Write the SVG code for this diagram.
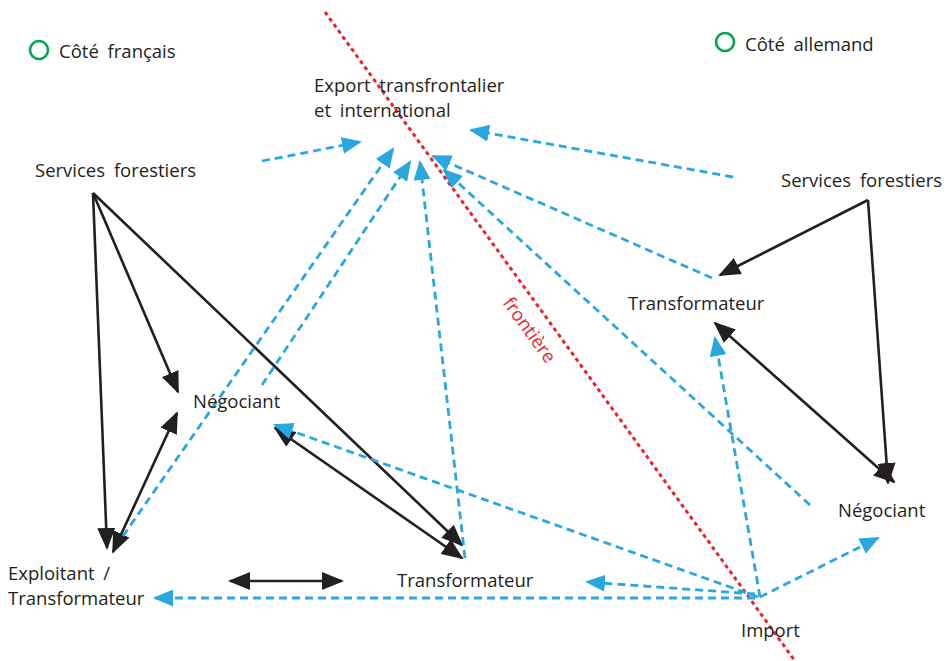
<svg xmlns="http://www.w3.org/2000/svg" width="952" height="661" viewBox="0 0 952 661">
<style>
text{font-family:"Open Sans","Liberation Sans",sans-serif;font-size:18.5px;fill:#231f20;word-spacing:4px}
.k{stroke:#231f20;stroke-width:2.6;fill:none}
.b{stroke:#29a8e0;stroke-width:2.8;fill:none;stroke-dasharray:8 5}
.kb{marker-end:url(#ak)}
.kk{marker-start:url(#ak);marker-end:url(#ak)}
.bb{marker-end:url(#ab)}
</style>
<defs>
<marker id="ak" viewBox="0 0 22 18" refX="20" refY="9" markerWidth="22" markerHeight="18" markerUnits="userSpaceOnUse" orient="auto-start-reverse"><path d="M0,0 L22,9 L0,18 z" fill="#231f20"/></marker>
<marker id="ab" viewBox="0 0 20 17" refX="18" refY="8.5" markerWidth="20" markerHeight="17" markerUnits="userSpaceOnUse" orient="auto-start-reverse"><path d="M0,0 L20,8.5 L0,17 z" fill="#29a8e0"/></marker>
</defs>
<rect width="952" height="661" fill="#fff"/>
<g id="border">
<line x1="325" y1="12" x2="795" y2="661" stroke="#e8242b" stroke-width="3" stroke-dasharray="4 3.5"/>
<text transform="translate(502,303) rotate(54)" style="fill:#e8242b">frontière</text>
</g>
<g id="legend-fr"><circle cx="39" cy="50" r="9" fill="none" stroke="#00a551" stroke-width="2.6"/><text x="59" y="58">Côté français</text></g>
<g id="legend-de"><circle cx="725" cy="42" r="9" fill="none" stroke="#00a551" stroke-width="2.6"/><text x="745" y="51">Côté allemand</text></g>
<g id="connectors">
<line class="k kb" x1="93" y1="193" x2="107" y2="548"/>
<line class="k kb" x1="93" y1="193" x2="178" y2="392"/>
<line class="k kb" x1="93" y1="193" x2="462" y2="545"/>
<line class="k kk" x1="113" y1="552" x2="177" y2="413"/>
<line class="k kk" x1="275" y1="428" x2="462" y2="558"/>
<line class="k kk" x1="230" y1="581" x2="342" y2="581"/>
<line class="k kb" x1="868" y1="200" x2="720" y2="275"/>
<line class="k kb" x1="868" y1="200" x2="888" y2="483"/>
<line class="k kk" x1="715" y1="323" x2="894" y2="482"/>
<line class="b bb" x1="262" y1="161" x2="360" y2="142"/>
<line class="b bb" x1="733" y1="177" x2="471" y2="130"/>
<line class="b bb" x1="123" y1="536" x2="393" y2="149"/>
<line class="b bb" x1="262" y1="385" x2="410" y2="162"/>
<line class="b bb" x1="465" y1="558" x2="420" y2="162"/>
<line class="b bb" x1="712" y1="278" x2="433" y2="156"/>
<line class="b bb" x1="810" y1="505" x2="444" y2="170"/>
<line class="b bb" x1="760" y1="597" x2="715" y2="338"/>
<line class="b bb" x1="760" y1="597" x2="878" y2="538"/>
<line class="b bb" x1="755" y1="594" x2="587" y2="582"/>
<line class="b bb" x1="755" y1="598" x2="155" y2="598"/>
<line class="b bb" x1="758" y1="597" x2="275" y2="425"/>
</g>
<g id="export"><text x="314" y="92">Export transfrontalier</text><text x="314" y="117">et international</text></g>
<g id="sf-fr"><text x="35" y="177">Services forestiers</text></g>
<g id="sf-de"><text x="781" y="187">Services forestiers</text></g>
<g id="transfo-de"><text x="628" y="310">Transformateur</text></g>
<g id="nego-fr"><text x="193" y="408">Négociant</text></g>
<g id="nego-de"><text x="838" y="517">Négociant</text></g>
<g id="exploitant"><text x="8" y="580">Exploitant /</text><text x="8" y="605">Transformateur</text></g>
<g id="transfo-fr"><text x="397" y="587">Transformateur</text></g>
<g id="import"><text x="741" y="637">Import</text></g>
</svg>
